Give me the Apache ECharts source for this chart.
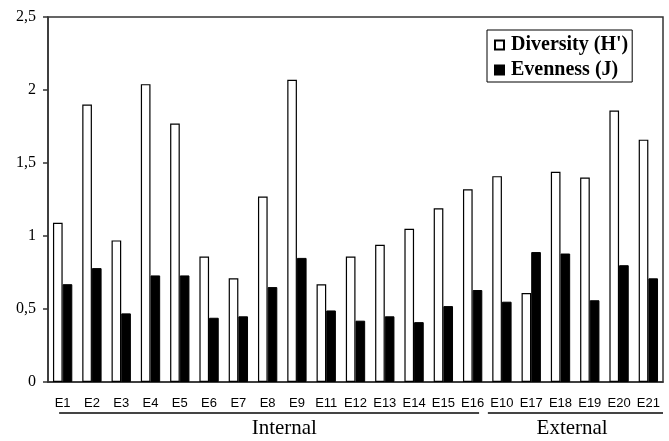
<!DOCTYPE html>
<html>
<head>
<meta charset="utf-8">
<script src="https://cdn.jsdelivr.net/npm/echarts@6/dist/echarts.min.js"></script>
<style>
html,body{margin:0;padding:0;background:#fff;}
#c{width:669px;height:441px;}
</style>
</head>
<body>
<div id="c"></div>
<script>
var categories = ['E1','E2','E3','E4','E5','E6','E7','E8','E9','E11','E12','E13','E14','E15','E16','E10','E17','E18','E19','E20','E21'];
var diversity = [1.09,1.90,0.97,2.04,1.77,0.86,0.71,1.27,2.07,0.67,0.86,0.94,1.05,1.19,1.32,1.41,0.61,1.44,1.40,1.86,1.66];
var evenness  = [0.67,0.78,0.47,0.73,0.73,0.44,0.45,0.65,0.85,0.49,0.42,0.45,0.41,0.52,0.63,0.55,0.89,0.88,0.56,0.80,0.71];
var groupNames = ['Internal','External'];
var groupSizes = [15, 6];

var chart = echarts.init(document.getElementById('c'));
var axisColor = '#333';
chart.setOption({
  animation: false,
  grid: {left: 48, right: 6, top: 17, bottom: 59, show: true, borderColor: axisColor, borderWidth: 1.5, backgroundColor: 'transparent'},
  legend: {
    left: 487, top: 30, orient: 'vertical',
    borderColor: '#000', borderWidth: 1, padding: [5, 4, 2, 7],
    itemWidth: 9, itemHeight: 9, itemGap: 5,
    icon: 'rect',
    textStyle: {fontFamily: 'Liberation Serif', fontWeight: 'bold', fontSize: 20, color: '#000', padding: [0, 0, 0, 2]},
    data: ['Diversity (H\')', 'Evenness (J)']
  },
  xAxis: {
    type: 'category', data: categories,
    axisLine: {lineStyle: {color: axisColor, width: 1.5}},
    axisTick: {length: 5, lineStyle: {color: axisColor, width: 1.5}},
    axisLabel: {interval: 0, margin: 15, fontFamily: '"Liberation Sans Narrow", "Liberation Sans"', fontSize: 13, color: '#000'}
  },
  yAxis: {
    type: 'value', min: 0, max: 2.5, interval: 0.5,
    splitLine: {show: false},
    axisLine: {show: true, lineStyle: {color: axisColor, width: 1.5}},
    axisTick: {show: true, length: 5, lineStyle: {color: axisColor, width: 1.5}},
    axisLabel: {margin: 12, fontFamily: 'Liberation Serif', fontSize: 16, color: '#000',
      formatter: function (v) { return String(v).replace('.', ','); }}
  },
  series: [
    {name: 'Diversity (H\')', type: 'bar', data: diversity, barGap: '0%', barCategoryGap: '34%',
     itemStyle: {color: '#fff', borderColor: '#000', borderWidth: 1.2}},
    {name: 'Evenness (J)', type: 'bar', data: evenness,
     itemStyle: {color: '#000', borderColor: '#000', borderWidth: 1}}
  ]
});

function px(i) { return chart.convertToPixel({xAxisIndex: 0}, i); }
var w = px(1) - px(0);
var yb = chart.convertToPixel({yAxisIndex: 0}, 0);
var graphics = [];
var start = 0;
groupNames.forEach(function (name, g) {
  var first = start, last = start + groupSizes[g] - 1;
  var x1, x2;
  if (g === 0) { x1 = px(first) - 0.12 * w; x2 = px(last) + 0.22 * w; }
  else { x1 = px(first) - 0.48 * w; x2 = px(last) + 0.5 * w; }
  graphics.push({type: 'line', shape: {x1: x1, y1: yb + 31, x2: x2, y2: yb + 31},
    style: {stroke: '#444', lineWidth: 2}});
  var mid = (first + last) / 2;
  var tx = g === 0 ? (px(Math.floor(mid)) + px(Math.ceil(mid)+1)) / 2 + 2 : (px(Math.floor(mid)) + px(Math.ceil(mid))) / 2 - 3;
  graphics.push({type: 'text', x: tx, y: yb + 46,
    style: {text: name, fill: '#000', font: '21px "Liberation Serif"', align: 'center', verticalAlign: 'middle'}});
  start += groupSizes[g];
});
chart.setOption({graphic: graphics});
</script>
</body>
</html>
